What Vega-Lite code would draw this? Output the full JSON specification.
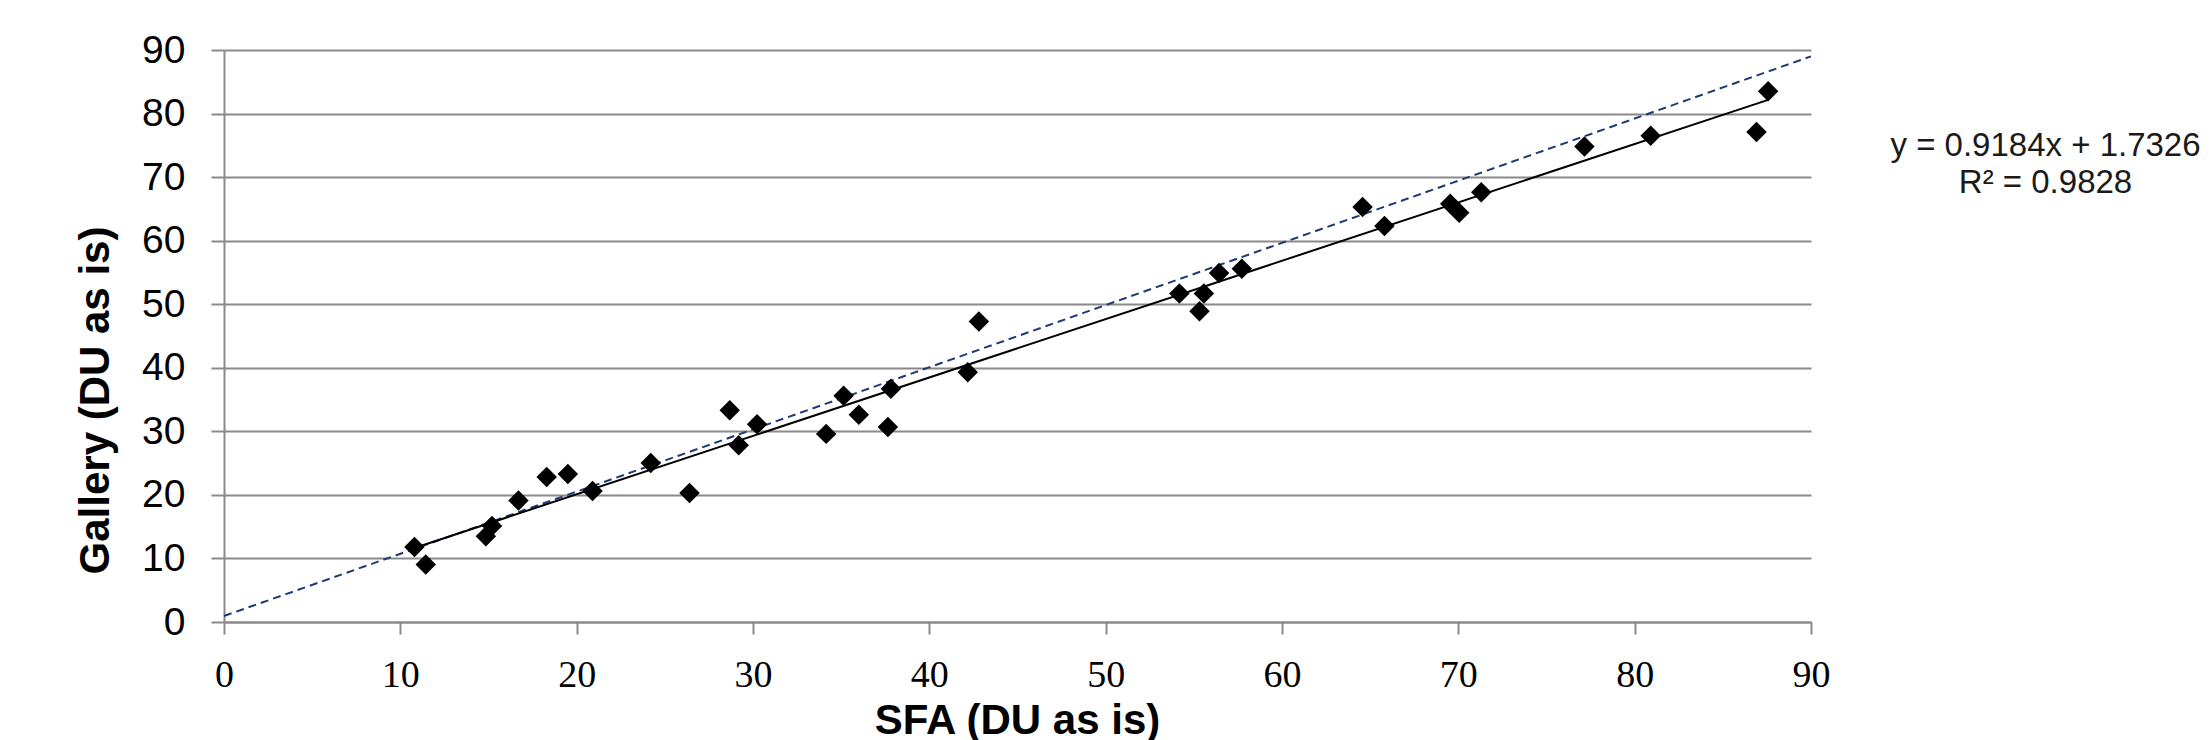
{
  "$schema": "https://vega.github.io/schema/vega-lite/v6.json",
  "autosize": {"type": "none"},
  "padding": {"left": 224, "top": 50, "right": 400, "bottom": 118},
  "width": 1587,
  "height": 572,
  "background": "white",
  "config": {
    "view": {"stroke": null},
    "axis": {"domainColor": "#8a8a8a", "gridColor": "#8a8a8a", "tickColor": "#8a8a8a", "domainWidth": 2, "gridWidth": 2, "tickWidth": 2, "labelColor": "black", "titleColor": "black", "labelFlush": false, "labelOverlap": false}
  },
  "datasets": {
    "pts": [
      {"sfa": 10.8, "gallery": 11.8},
      {"sfa": 11.44, "gallery": 9.06},
      {"sfa": 14.85, "gallery": 13.5},
      {"sfa": 15.2, "gallery": 15.1},
      {"sfa": 16.7, "gallery": 19.1},
      {"sfa": 18.3, "gallery": 22.8},
      {"sfa": 19.5, "gallery": 23.3},
      {"sfa": 20.9, "gallery": 20.6},
      {"sfa": 24.2, "gallery": 25.0},
      {"sfa": 26.4, "gallery": 20.3},
      {"sfa": 28.68, "gallery": 33.3},
      {"sfa": 29.19, "gallery": 27.8},
      {"sfa": 30.23, "gallery": 31.1},
      {"sfa": 34.15, "gallery": 29.6},
      {"sfa": 35.14, "gallery": 35.6},
      {"sfa": 36.0, "gallery": 32.6},
      {"sfa": 37.65, "gallery": 30.7},
      {"sfa": 37.82, "gallery": 36.7},
      {"sfa": 42.18, "gallery": 39.3},
      {"sfa": 42.81, "gallery": 47.3},
      {"sfa": 54.18, "gallery": 51.7},
      {"sfa": 55.32, "gallery": 48.9},
      {"sfa": 55.57, "gallery": 51.7},
      {"sfa": 56.43, "gallery": 54.9},
      {"sfa": 57.72, "gallery": 55.6},
      {"sfa": 64.57, "gallery": 65.3},
      {"sfa": 65.81, "gallery": 62.3},
      {"sfa": 69.54, "gallery": 65.8},
      {"sfa": 70.05, "gallery": 64.4},
      {"sfa": 71.3, "gallery": 67.6},
      {"sfa": 77.15, "gallery": 74.8},
      {"sfa": 80.91, "gallery": 76.5},
      {"sfa": 86.91, "gallery": 77.1},
      {"sfa": 87.57, "gallery": 83.5}
    ],
    "trend": [
      {"sfa": 10.8, "gallery": 11.65},
      {"sfa": 87.57, "gallery": 82.16}
    ],
    "ref": [
      {"sfa": 0, "gallery": 0.95},
      {"sfa": 90, "gallery": 89.0}
    ],
    "eq": [
      {"sfa": 103.3, "gallery": 74.9, "label": "y = 0.9184x + 1.7326"},
      {"sfa": 103.3, "gallery": 69.1, "label": "R² = 0.9828"}
    ]
  },
  "layer": [
    {
      "data": {"name": "ref"},
      "mark": {"type": "line", "color": "#1f3a72", "strokeWidth": 2, "strokeDash": [8, 5]},
      "encoding": {
        "x": {"field": "sfa", "type": "quantitative", "scale": {"domain": [0, 90], "nice": false},
          "axis": {"values": [0,10,20,30,40,50,60,70,80,90], "grid": false, "tickSize": 12, "labelPadding": 22, "labelBaseline": "top", "labelFont": "Liberation Serif", "labelFontSize": 38, "title": "SFA (DU as is)", "titleFont": "Liberation Sans", "titleFontSize": 42, "titleFontWeight": "bold", "titleBaseline": "alphabetic", "titleY": 111, "titleX": 793, "titleAlign": "center"}},
        "y": {"field": "gallery", "type": "quantitative", "scale": {"domain": [0, 90], "nice": false},
          "axis": {"values": [0,10,20,30,40,50,60,70,80,90], "grid": true, "tickSize": 13, "labelPadding": 26, "labelFont": "Liberation Sans", "labelFontSize": 39, "title": "Gallery (DU as is)", "titleFont": "Liberation Sans", "titleFontSize": 42, "titleFontWeight": "bold", "titleAngle": 270, "titleBaseline": "alphabetic", "titleAlign": "center", "titleX": -116, "titleY": 350}}
      }
    },
    {
      "data": {"name": "trend"},
      "mark": {"type": "line", "color": "black", "strokeWidth": 2},
      "encoding": {
        "x": {"field": "sfa", "type": "quantitative"},
        "y": {"field": "gallery", "type": "quantitative"}
      }
    },
    {
      "data": {"name": "pts"},
      "mark": {"type": "point", "shape": "diamond", "filled": true, "color": "black", "size": 420, "opacity": 1},
      "encoding": {
        "x": {"field": "sfa", "type": "quantitative"},
        "y": {"field": "gallery", "type": "quantitative"}
      }
    },
    {
      "data": {"name": "eq"},
      "mark": {"type": "text", "font": "Liberation Sans", "fontSize": 33, "align": "center", "baseline": "middle", "color": "#1a1a1a"},
      "encoding": {
        "x": {"field": "sfa", "type": "quantitative"},
        "y": {"field": "gallery", "type": "quantitative"},
        "text": {"field": "label"}
      }
    }
  ]
}
